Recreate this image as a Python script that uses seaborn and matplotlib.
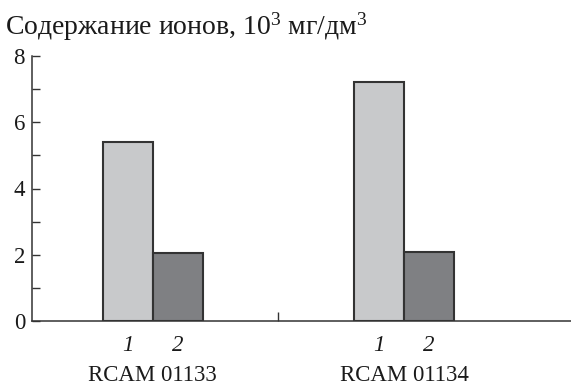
import matplotlib
matplotlib.use("Agg")
import matplotlib.pyplot as plt
import seaborn as sns
import pandas as pd

samples = ["RCAM 01133", "RCAM 01134"]
series = ["1", "2"]
values_1 = [5.4, 7.22]
values_2 = [2.04, 2.07]
y_ticks = [0, 2, 4, 6, 8]
y_minor = [1, 3, 5, 7]
title = "Содержание ионов, 10$^3$ мг/дм$^3$"

rows = []
for s, v1, v2 in zip(samples, values_1, values_2):
    rows.append({"sample": s, "series": series[0], "value": v1})
    rows.append({"sample": s, "series": series[1], "value": v2})
df = pd.DataFrame(rows)

sns.set_theme(style="white")
FAM = ["Liberation Serif", "DejaVu Serif"]
plt.rcParams["font.family"] = FAM
plt.rcParams["mathtext.fontset"] = "custom"
plt.rcParams["mathtext.rm"] = "Liberation Serif"
plt.rcParams["mathtext.it"] = "Liberation Serif:italic"

fig = plt.figure(figsize=(5.71, 3.85), dpi=100)
ax = fig.add_axes([32 / 571, (385 - 321) / 385, 1 - 32 / 571, (321 - 56) / 385])

sns.barplot(data=df, x="sample", y="value", hue="series",
            palette=["#c8c9cb", "#7f8083"], saturation=1, width=0.4,
            edgecolor="#333333", linewidth=1.5, legend=False, ax=ax)

ax.set_xlim(-0.481, 1.665)
ax.set_ylim(0, 8)
ax.set_xlabel("")
ax.set_ylabel("")

spine_c = "#333333"
txt_c = "#1a1a1a"
for side in ["top", "right"]:
    ax.spines[side].set_visible(False)
for side in ["left", "bottom"]:
    ax.spines[side].set_color(spine_c)
    ax.spines[side].set_linewidth(1.1)

fs = 16.5
ax.set_yticks(y_ticks)
ax.set_yticklabels([str(t) for t in y_ticks], family=FAM)
ax.set_yticks(y_minor, minor=True)
ax.tick_params(axis="y", which="both", left=True, direction="in", length=6,
               width=1.0, color=spine_c, labelsize=fs, pad=5, labelcolor=txt_c)

# x: group labels as major ticks, plus a divider tick between groups
ax.set_xticks([0, 0.5, 1])
ax.set_xticklabels([samples[0], "", samples[1]], family=FAM)
ax.tick_params(axis="x", which="major", bottom=True, direction="in", length=6.5,
               width=1.0, color=spine_c, labelsize=fs, pad=31.5, labelcolor=txt_c)
majors = ax.xaxis.get_major_ticks()
majors[0].tick1line.set_visible(False)
majors[2].tick1line.set_visible(False)

off = 0.1
ax.set_xticks([g + d for g in range(len(samples)) for d in (-off, off)], minor=True)
ax.set_xticklabels(series * len(samples), minor=True, fontstyle="italic", family=FAM)
ax.tick_params(axis="x", which="minor", bottom=True, length=0, labelsize=fs,
               pad=10, labelcolor=txt_c)

fig.text(5 / 571, (385 - 35) / 385, title, fontsize=20, color=txt_c,
         ha="left", va="baseline", family=FAM)

fig.savefig("out.png", dpi=100)
